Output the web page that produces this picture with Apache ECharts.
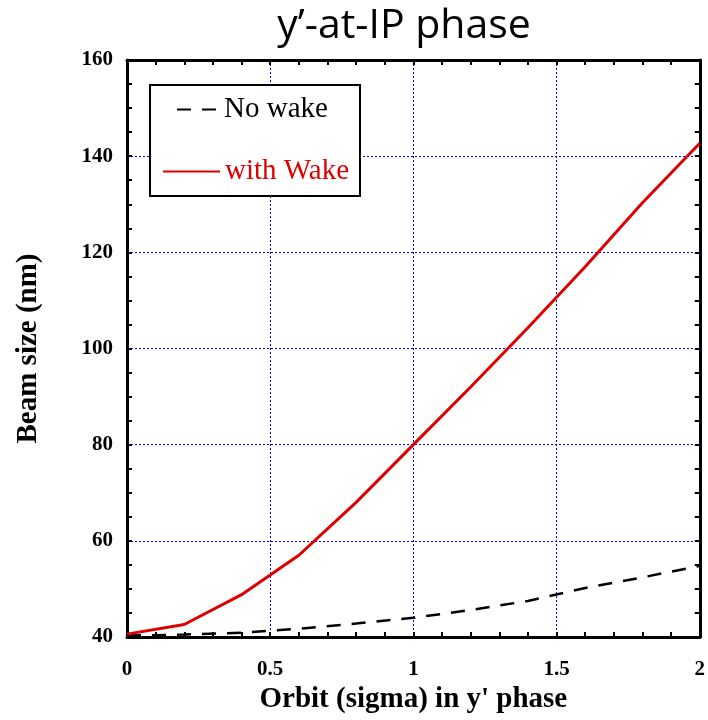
<!DOCTYPE html>
<html>
<head>
<meta charset="utf-8">
<script src="https://cdn.jsdelivr.net/npm/echarts@6/dist/echarts.min.js"></script>
<style>html,body{margin:0;padding:0;background:#fff;}#c{width:708px;height:720px;}</style>
</head>
<body>
<div id="c"></div>
<script>
const titleText = "y\u2019-at-IP phase";
const xName = "Orbit (sigma) in y' phase";
const yName = "Beam size (nm)";
const orbit = [0, 0.2, 0.4, 0.6, 0.8, 1.0, 1.2, 1.4, 1.6, 1.8, 2.0];
const noWake = [40.3, 40.5, 40.9, 41.7, 42.8, 44.0, 45.6, 47.5, 50.2, 52.4, 54.8];
const withWake = [40.6, 42.6, 48.8, 57.0, 68.0, 80.0, 92.0, 104.3, 117.0, 130.3, 142.7];
const seriesNames = ["No wake", "with Wake"];

const chart = echarts.init(document.getElementById('c'));
const gridCol = '#0000ff';
const tickCommon = {show: true, inside: true, length: 5, lineStyle: {color: '#000', width: 2}};
const minorCommon = {show: true, splitNumber: 5, length: 5, lineStyle: {color: '#000', width: 2}};
const labelFont = {fontFamily: 'Liberation Serif', fontWeight: 'bold', fontSize: 21, color: '#000'};
const nameFont = {fontFamily: 'Liberation Serif', fontWeight: 'bold', fontSize: 29, color: '#000'};

function mk(arr) { return orbit.map((x, i) => [x, arr[i]]); }

chart.setOption({
  animation: false,
  backgroundColor: '#fff',
  title: {
    text: titleText, left: 399, top: 1, textAlign: 'center',
    textStyle: {fontFamily: 'Open Sans', fontWeight: 'normal', fontSize: 41, color: '#000'}
  },
  grid: {left: 127, right: 5, top: 60, bottom: 83, containLabel: false},
  xAxis: [{
    type: 'value', min: 0, max: 2, interval: 0.5, position: 'bottom',
    name: xName, nameLocation: 'middle', nameGap: 46, nameTextStyle: nameFont,
    axisLine: {show: true, onZero: false, lineStyle: {color: '#000', width: 3}},
    axisTick: tickCommon, minorTick: minorCommon,
    axisLabel: Object.assign({margin: 22, formatter: v => String(v)}, labelFont),
    splitLine: {show: true, lineStyle: {color: gridCol, width: 1, type: [2, 2]}}
  }, {
    type: 'value', min: 0, max: 2, interval: 0.5, position: 'top',
    axisLine: {show: true, onZero: false, lineStyle: {color: '#000', width: 3}},
    axisTick: tickCommon, minorTick: minorCommon,
    axisLabel: {show: false}, splitLine: {show: false}
  }],
  yAxis: [{
    type: 'value', min: 40, max: 160, interval: 20, position: 'left',
    name: yName, nameLocation: 'middle', nameGap: 84, nameTextStyle: nameFont,
    axisLine: {show: true, onZero: false, lineStyle: {color: '#000', width: 3}},
    axisTick: tickCommon, minorTick: Object.assign({}, minorCommon, {splitNumber: 4}),
    axisLabel: Object.assign({margin: 14}, labelFont),
    splitLine: {show: true, lineStyle: {color: gridCol, width: 1, type: [2, 2]}}
  }, {
    type: 'value', min: 40, max: 160, interval: 20, position: 'right',
    axisLine: {show: true, onZero: false, lineStyle: {color: '#000', width: 3}},
    axisTick: tickCommon, minorTick: Object.assign({}, minorCommon, {splitNumber: 4}),
    axisLabel: {show: false}, splitLine: {show: false}
  }],
  graphic: [{
    type: 'rect', left: 149, top: 84, z: 90,
    shape: {width: 210, height: 111},
    style: {fill: '#fff', stroke: '#000', lineWidth: 2}
  }],
  legend: [{
    data: [{name: seriesNames[0], textStyle: {color: '#000'}}],
    left: 176, top: 95, padding: 0, itemWidth: 42, itemHeight: 14, z: 100,
    itemStyle: {opacity: 0},
    textStyle: {fontFamily: 'Liberation Serif', fontSize: 29, color: '#000'}
  }, {
    data: [{name: seriesNames[1], textStyle: {color: '#dd0000'}}],
    left: 162, top: 157, padding: 0, itemWidth: 57, itemHeight: 14, z: 100,
    itemStyle: {opacity: 0},
    textStyle: {fontFamily: 'Liberation Serif', fontSize: 29, color: '#dd0000'}
  }],
  series: [{
    name: seriesNames[0], type: 'line', data: mk(noWake), symbol: 'none',
    lineStyle: {color: '#000', width: 2.5, type: [14, 11]}, itemStyle: {color: '#000'}, z: 5
  }, {
    name: seriesNames[1], type: 'line', data: mk(withWake), symbol: 'none',
    lineStyle: {color: '#dd0000', width: 3}, itemStyle: {color: '#dd0000'}, z: 6
  }]
});
</script>
</body>
</html>
